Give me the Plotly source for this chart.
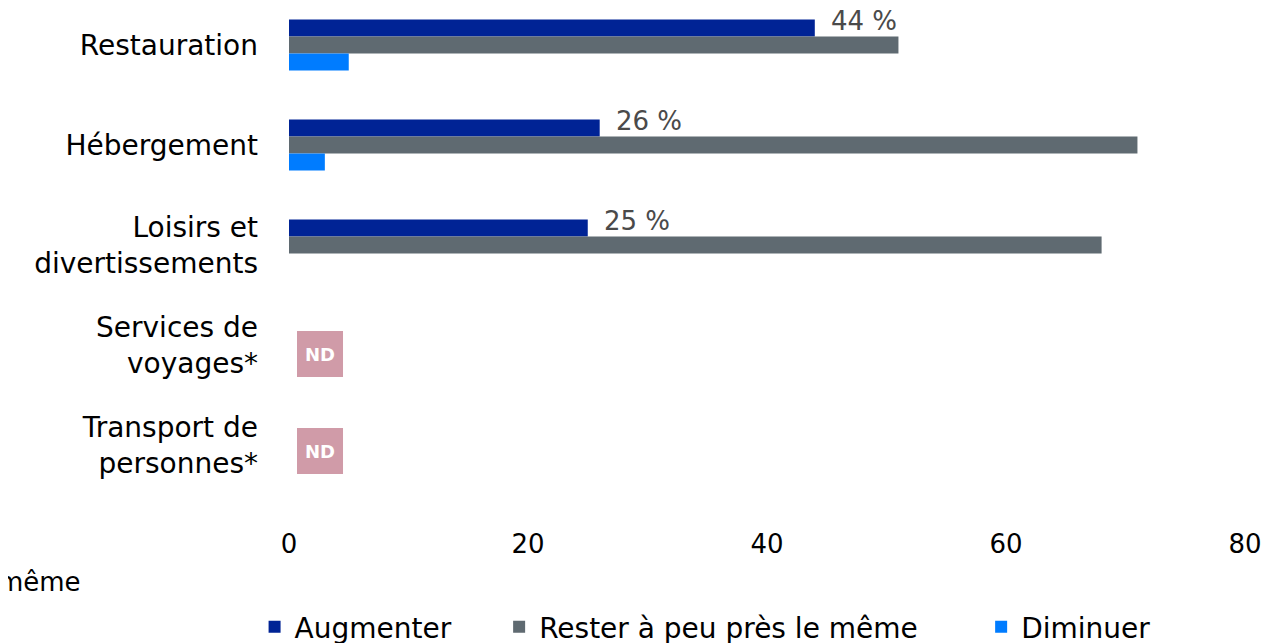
import plotly.graph_objects as go

categories = ["Restauration", "Hébergement", "Loisirs et<br>divertissements",
              "Services de<br>voyages*", "Transport de<br>personnes*"]
series_names = ["Augmenter", "Rester à peu près le même", "Diminuer"]
augmenter = [44, 26, 25, None, None]
rester = [51, 71, 68, None, None]
diminuer = [5, 3, None, None, None]
labels = ["44 %", "26 %", "25 %", None, None]
nd_flags = [False, False, False, True, True]
x_ticks = [0, 20, 40, 60, 80]

colors = ["#002395", "#5f6a71", "#007cff"]
font_main = "DejaVu Sans, Open Sans, sans-serif"

ypos = list(range(len(categories)))
legend_ids = ["legend", "legend2", "legend3"]
fig = go.Figure()
for name, vals, col, lg in zip(series_names, [augmenter, rester, diminuer], colors, legend_ids):
    fig.add_trace(go.Bar(
        y=ypos, x=vals, name=name, orientation="h",
        marker=dict(color=col, line=dict(width=0)),
        hoverinfo="x+name", legend=lg,
    ))

annotations = []
for i, (v, lab) in enumerate(zip(augmenter, labels)):
    if lab:
        annotations.append(dict(
            x=v, y=i - 0.24, xref="x", yref="y", text=lab, showarrow=False,
            xanchor="left", yanchor="middle", xshift=14,
            font=dict(family=font_main, size=26, color="#4a4a4a"),
        ))

shapes = []
nd_offsets = {3: 0.09, 4: 0.06}
for i, flag in enumerate(nd_flags):
    if flag:
        yc = i + nd_offsets.get(i, 0.08)
        shapes.append(dict(
            type="rect", xref="x", yref="y", x0=0.67, x1=4.52,
            y0=yc - 0.23, y1=yc + 0.23, fillcolor="#d09ba8",
            line=dict(width=0), layer="above",
        ))
        annotations.append(dict(
            x=2.6, y=yc, xref="x", yref="y", text="<b>ND</b>", showarrow=False,
            xanchor="center", yanchor="middle",
            font=dict(family=font_main, size=18, color="white"),
        ))

# clipped leftover text at the bottom-left edge
annotations.append(dict(
    x=-0.2155, y=-0.1786, xref="paper", yref="paper",
    text="Rester à peu près le même", showarrow=False,
    xanchor="right", yanchor="middle",
    font=dict(family=font_main, size=26, color="#000000"),
))

legend_style = dict(
    orientation="h", xanchor="left", y=-0.271, yanchor="middle",
    font=dict(family=font_main, size=28, color="#000000"),
    itemwidth=30, bgcolor="rgba(0,0,0,0)",
)

fig.update_layout(
    width=1284, height=643,
    margin=dict(l=281, r=47, t=0, b=156, autoexpand=False),
    paper_bgcolor="white", plot_bgcolor="white",
    barmode="group", bargap=0.49, bargroupgap=0,
    showlegend=True,
    legend=dict(x=-0.036, **legend_style),
    legend2=dict(x=0.2198, **legend_style),
    legend3=dict(x=0.724, **legend_style),
    xaxis=dict(
        range=[0, 80], tickvals=x_ticks, showgrid=False, zeroline=False,
        showline=False, ticks="", ticklabelstandoff=31, automargin=False,
        tickfont=dict(family=font_main, size=26, color="#000000"),
    ),
    yaxis=dict(
        range=[4.5, -0.37], tickvals=ypos, ticktext=categories,
        showgrid=False, zeroline=False, showline=False, ticks="",
        ticklabelstandoff=30, automargin=False,
        tickfont=dict(family=font_main, size=28, color="#000000"),
    ),
    annotations=annotations,
    shapes=shapes,
)

fig.write_html("out.html")
